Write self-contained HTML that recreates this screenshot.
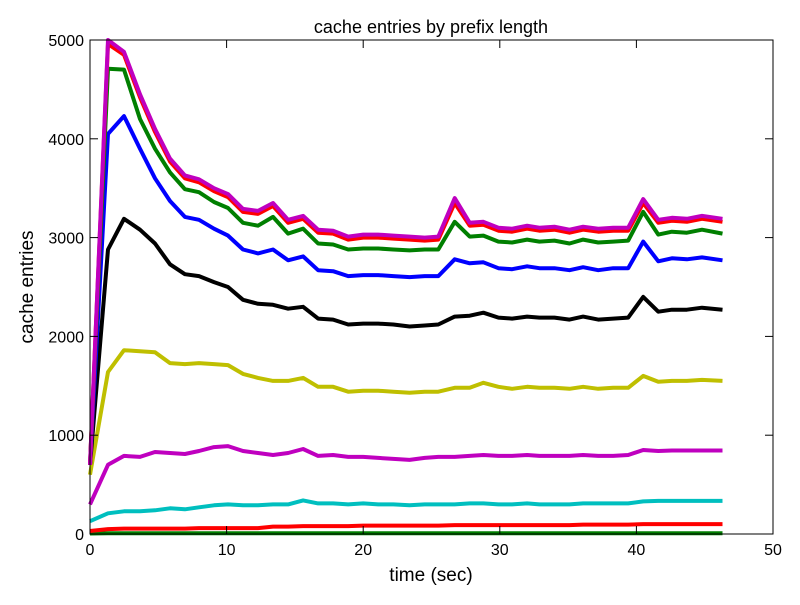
<!DOCTYPE html>
<html><head><meta charset="utf-8"><style>
body{margin:0;background:#fff;}
svg text{font-family:"Liberation Sans","DejaVu Sans",sans-serif;}
</style></head><body>
<svg id="chart" width="800" height="600" xmlns="http://www.w3.org/2000/svg">
<rect width="800" height="600" fill="#fff"/>
<g id="lines"></g>
<rect x="90" y="40" width="683" height="494" fill="none" stroke="#000" stroke-width="1"/>
<g id="ticks"></g>
<text x="431" y="33" font-size="18" text-anchor="middle">cache entries by prefix length</text>
<text x="431" y="581" font-size="19" text-anchor="middle">time (sec)</text>
<text x="33" y="287" font-size="19" text-anchor="middle" transform="rotate(-90 33 287)">cache entries</text>
</svg>
<script>
const times = [0,1.32,2.49,3.66,4.76,5.86,6.95,7.98,9.08,10.1,11.2,12.3,13.4,14.5,15.6,16.7,17.8,18.9,20.0,21.1,22.2,23.4,24.5,25.5,26.7,27.8,28.8,29.9,30.9,32.0,32.9,34.0,35.1,36.1,37.2,38.3,39.4,40.5,41.6,42.6,43.7,44.8,46.3];
const sMagentaTop = [700,5000,4880,4450,4100,3800,3630,3590,3500,3440,3290,3270,3350,3180,3220,3080,3070,3010,3030,3030,3020,3010,3000,3010,3400,3150,3160,3100,3090,3120,3100,3110,3080,3110,3090,3100,3100,3390,3180,3200,3190,3220,3190];
const sRedTop = [700,4960,4850,4420,4070,3770,3600,3560,3470,3410,3260,3240,3320,3150,3190,3050,3040,2980,3000,3000,2990,2980,2970,2980,3350,3120,3130,3070,3060,3090,3070,3080,3050,3080,3060,3070,3070,3350,3150,3170,3160,3190,3160];
const sGreenMid = [700,4710,4700,4200,3900,3660,3490,3460,3360,3300,3150,3120,3210,3040,3090,2940,2930,2880,2890,2890,2880,2870,2880,2880,3160,3010,3020,2960,2950,2980,2960,2970,2940,2980,2950,2960,2970,3260,3030,3060,3050,3080,3040];
const sBlue = [700,4050,4230,3900,3600,3370,3210,3180,3090,3020,2880,2840,2880,2770,2810,2670,2660,2610,2620,2620,2610,2600,2610,2610,2780,2740,2750,2690,2680,2710,2690,2690,2670,2700,2670,2690,2690,2960,2760,2790,2780,2800,2770];
const sBlack = [700,2880,3190,3080,2940,2730,2630,2610,2550,2500,2370,2330,2320,2280,2300,2180,2170,2120,2130,2130,2120,2100,2110,2120,2200,2210,2240,2190,2180,2200,2190,2190,2170,2200,2170,2180,2190,2400,2250,2270,2270,2290,2270];
const sYellow = [600,1640,1860,1850,1840,1730,1720,1730,1720,1710,1620,1580,1550,1550,1580,1490,1490,1440,1450,1450,1440,1430,1440,1440,1480,1480,1530,1490,1470,1490,1480,1480,1470,1490,1470,1480,1480,1600,1540,1550,1550,1560,1550];
const sMagentaLow = [300,700,790,780,830,820,810,840,880,890,840,820,800,820,860,790,800,780,780,770,760,750,770,780,780,790,800,790,790,800,790,790,790,800,790,790,800,850,840,845,845,845,845];
const sCyan = [130,210,230,230,240,260,250,270,290,300,290,290,300,300,340,310,310,300,310,300,300,290,300,300,300,310,310,300,300,310,300,300,300,310,310,310,310,330,335,335,335,335,335];
const sRedLow = [30,50,55,55,55,55,55,60,60,60,60,60,75,75,80,80,80,80,85,85,85,85,85,85,90,90,90,90,90,90,90,90,90,95,95,95,95,100,100,100,100,100,100];
const sGreenLow = [5,8,8,8,8,8,8,8,8,8,8,8,8,8,8,8,8,8,8,8,8,8,8,8,8,8,8,8,8,8,8,8,8,8,8,8,8,8,8,8,8,8,8];
const xTicks = [0,10,20,30,40,50];
const yTicks = [0,1000,2000,3000,4000,5000];
const X0=90,X1=773,Y0=534,Y1=40;
const sx=v=>X0+(v-0)/50*(X1-X0);
const sy=v=>Y0-(v-0)/5000*(Y0-Y1);
const NS='http://www.w3.org/2000/svg';
const series=[
 ['green-low',sGreenLow,'#007f00'],['red-low',sRedLow,'#ff0000'],['cyan',sCyan,'#00bfbf'],
 ['magenta-low',sMagentaLow,'#bf00bf'],['yellow',sYellow,'#bfbf00'],['black',sBlack,'#000000'],
 ['blue',sBlue,'#0000ff'],['green-mid',sGreenMid,'#007f00'],['red-top',sRedTop,'#ff0000'],['magenta-top',sMagentaTop,'#bf00bf']];
const g=document.getElementById('lines');
series.forEach(([n,vals,c])=>{
 const p=document.createElementNS(NS,'polyline');
 p.setAttribute('points',vals.map((v,i)=>sx(times[i]).toFixed(1)+','+sy(v).toFixed(1)).join(' '));
 p.setAttribute('fill','none');p.setAttribute('stroke',c);p.setAttribute('stroke-width','4');
 p.setAttribute('stroke-linejoin','round');
 
 
 g.appendChild(p);
});
const t=document.getElementById('ticks');
function ln(x1,y1,x2,y2,name){const l=document.createElementNS(NS,'line');l.setAttribute('x1',x1);l.setAttribute('y1',y1);l.setAttribute('x2',x2);l.setAttribute('y2',y2);l.setAttribute('stroke','#000');l.setAttribute('stroke-width','1');
 
 
 t.appendChild(l);}
function tx(x,y,s,a,name){const e=document.createElementNS(NS,'text');e.setAttribute('x',x);e.setAttribute('y',y);e.setAttribute('font-size','16');e.setAttribute('text-anchor',a);e.textContent=s;
 
 
 t.appendChild(e);}
xTicks.forEach(v=>{const x=sx(v);ln(x,Y0,x,Y0-8,'x-tick');ln(x,Y1,x,Y1+8,'x-tick-top');tx(x,Y0+21,String(v),'middle','x-tick-label');});
yTicks.forEach(v=>{const y=sy(v);ln(X0,y,X0+8,y,'y-tick');ln(X1,y,X1-8,y,'y-tick-right');tx(X0-6,y+6,String(v),'end','y-tick-label');});
</script>
</body></html>
